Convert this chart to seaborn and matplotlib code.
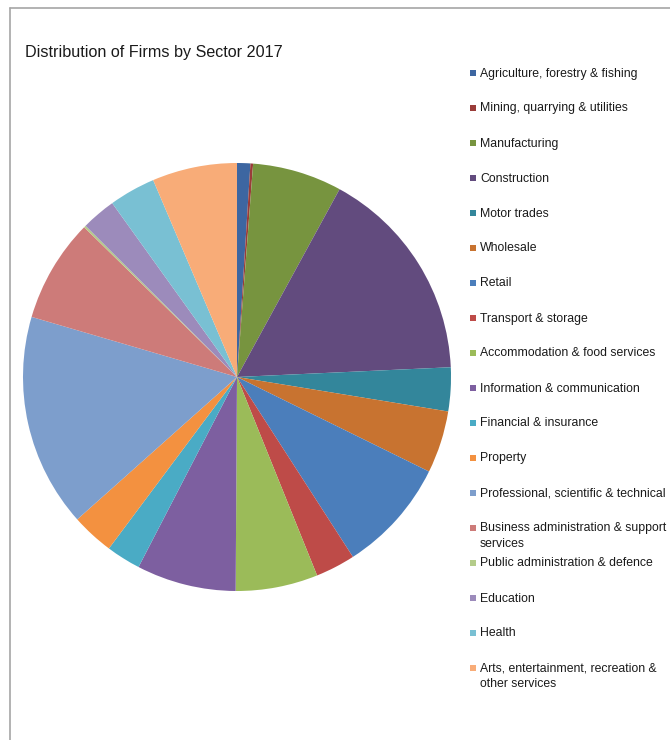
import matplotlib
matplotlib.use("Agg")
import matplotlib.pyplot as plt
from matplotlib.lines import Line2D
from matplotlib.patches import Rectangle
import seaborn as sns

sns.set_theme(style="white")
plt.rcParams["font.family"] = ["Liberation Sans", "DejaVu Sans"]

# Share of firms by sector, 2017 (%)
sectors = [
    "Agriculture, forestry & fishing",
    "Mining, quarrying & utilities",
    "Manufacturing",
    "Construction",
    "Motor trades",
    "Wholesale",
    "Retail",
    "Transport & storage",
    "Accommodation & food services",
    "Information & communication",
    "Financial & insurance",
    "Property",
    "Professional, scientific & technical",
    "Business administration & support\nservices",
    "Public administration & defence",
    "Education",
    "Health",
    "Arts, entertainment, recreation &\nother services",
]
shares = [1.0, 0.2, 6.75, 16.3, 3.3, 4.7, 8.6, 3.0, 6.2, 7.5,
          2.6, 3.2, 16.1, 7.8, 0.15, 2.6, 3.5, 6.4]

slice_colors = [
    "#3d66a1", "#9a3c39", "#77943f", "#624b7e", "#33869b", "#c87330",
    "#4b7ebb", "#be4b48", "#9bbb59", "#7d5fa0", "#4aabc5", "#f39140",
    "#7d9ecc", "#cd7b79", "#b4cc8a", "#9c8bbb", "#79c0d3", "#f8ac78",
]
palette = sns.color_palette(slice_colors)

W, H = 670, 740
fig = plt.figure(figsize=(W / 100, H / 100), dpi=100)
fig.patch.set_facecolor("white")

# pie area: centre (237, 377), radius 214 px
cx, cy, r = 237, 377, 214
ax = fig.add_axes([(cx - r) / W, (H - cy - r) / H, 2 * r / W, 2 * r / H])
wedges, _ = ax.pie(shares, colors=palette, startangle=90, counterclock=False,
                   wedgeprops=dict(linewidth=0))
ax.set_xlim(-1, 1)
ax.set_ylim(-1, 1)
ax.set_aspect("equal")
ax.axis("off")

# chart-area frame
frame_col = "#a6a6a6"
fig.add_artist(Line2D([10 / W, 1], [1 - 8 / H, 1 - 8 / H], color=frame_col, lw=1.2))
fig.add_artist(Line2D([10 / W, 10 / W], [0, 1 - 8 / H], color=frame_col, lw=1.2))

fig.text(25 / W, 1 - 52 / H, "Distribution of Firms by Sector 2017",
         fontsize=11.6, color="#1a1a1a", va="center", ha="left")

# legend column
for i, (w, label) in enumerate(zip(wedges, sectors)):
    y = 73 + 35 * i
    fig.add_artist(Rectangle((470 / W, 1 - (y + 3) / H), 6 / W, 6 / H,
                             facecolor=w.get_facecolor(), edgecolor="none",
                             transform=fig.transFigure))
    fig.text(480 / W, 1 - (y - 5.5) / H, label, fontsize=8.8, color="#1a1a1a",
             va="top", ha="left", linespacing=1.35)

fig.savefig("out.png", dpi=100, facecolor="white")
